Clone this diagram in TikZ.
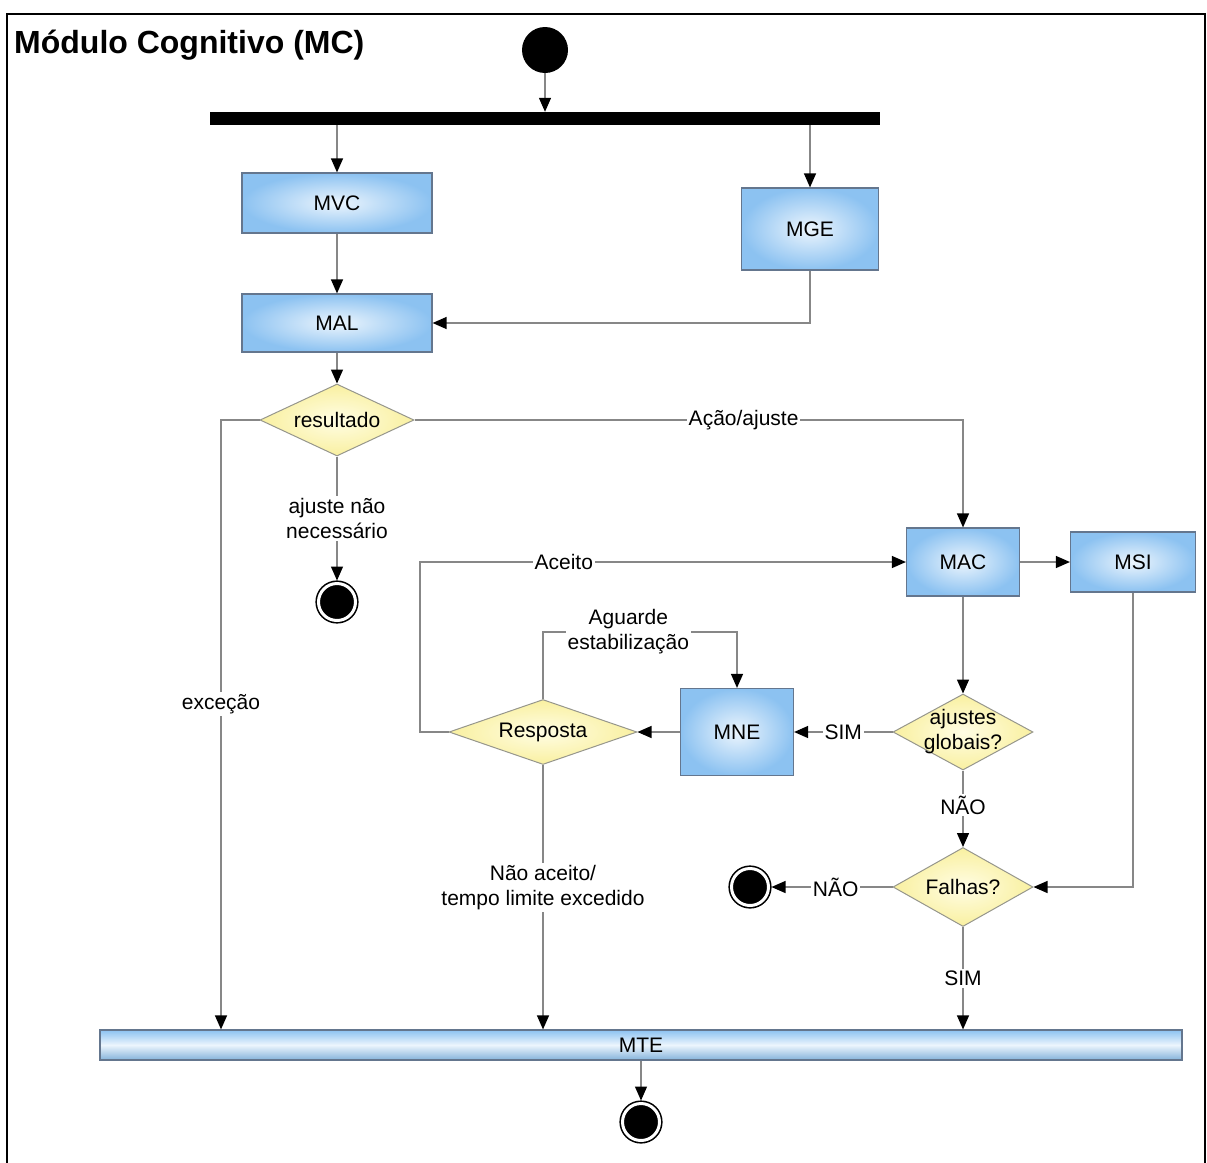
\documentclass[tikz,border=0pt]{standalone}
\usepackage{fontspec}
\setmainfont{Liberation Sans}
\usetikzlibrary{arrows.meta,shapes.geometric}
\definecolor{linegray}{RGB}{135,135,135}
\definecolor{boxedge}{RGB}{100,118,142}
\definecolor{boxin}{RGB}{236,245,253}
\definecolor{boxout}{RGB}{140,194,241}
\definecolor{diaedge}{RGB}{150,150,140}
\definecolor{diain}{RGB}{255,253,228}
\definecolor{diaout}{RGB}{249,240,160}
\newcommand\lblfont{\fontsize{21}{25}\selectfont}
\begin{document}
\begin{tikzpicture}[x=1pt,y=-1pt,
  ln/.style={draw=linegray, line width=1.3pt, -{Triangle[length=14pt,width=12pt,color=black]}},
  box/.style={rectangle, draw=boxedge, line width=1.2pt, inner color=boxin, outer color=boxout, font=\lblfont, inner sep=0pt},
  dia/.style={diamond, draw=diaedge, line width=1pt, inner color=diain, outer color=diaout, inner sep=0pt},
  txt/.style={font=\lblfont, align=center, inner sep=0pt},
  lbl/.style={fill=white, inner sep=2pt, font=\lblfont, align=center},
  endc/.style={circle, fill=black, draw=black, line width=1.6pt, double=white, double distance=3pt, minimum size=37pt, inner sep=0pt, outer sep=3pt},
  startc/.style={circle, fill=black, minimum size=46pt, inner sep=0pt},
  forkbar/.style={rectangle, fill=black, inner sep=0pt}
]
\useasboundingbox (0,0) rectangle (1207,1162);
\clip (0,0) rectangle (1207,1162);

% frame and title
\draw[line width=2pt] (7,14) rectangle (1205,1180);
\node[anchor=base west, inner sep=0pt, font=\fontsize{32}{36}\selectfont\bfseries] (title) at (14,53) {Módulo Cognitivo (MC)};

% initial node and fork
\node[startc] (start) at (545,50) {};
\node[forkbar, minimum width=670pt, minimum height=13pt] (fork) at (545,118.5) {};

% activities
\node[box, minimum width=190pt, minimum height=60pt] (mvc) at (337,203) {MVC};
\node[box, minimum width=137pt, minimum height=82pt] (mge) at (810,229) {MGE};
\node[box, minimum width=190pt, minimum height=58pt] (mal) at (337,323) {MAL};
\node[box, minimum width=113pt, minimum height=68pt] (mac) at (963,562) {MAC};
\node[box, minimum width=125pt, minimum height=60pt] (msi) at (1133,562) {MSI};
\node[box, minimum width=113pt, minimum height=87pt] (mne) at (737,732) {MNE};
\node[rectangle, draw=boxedge, line width=1.2pt, inner sep=0pt,
      top color=boxout, bottom color=boxout!90!black!95, middle color=boxin,
      font=\lblfont, minimum width=1082pt, minimum height=30pt] (mte) at (641,1045) {MTE};

% decisions
\node[dia, minimum width=154pt, minimum height=72pt] (res) at (337,420) {};
\node[txt] at (res) {resultado};
\node[dia, minimum width=188pt, minimum height=65pt] (resp) at (543,732) {};
\node[txt] at (resp) {Resposta};
\node[dia, minimum width=140pt, minimum height=76pt] (aj) at (963,732) {};
\node[txt] at (aj) {ajustes\\globais?};
\node[dia, minimum width=140pt, minimum height=79pt] (fa) at (963,887) {};
\node[txt] at (fa) {Falhas?};

% final nodes
\node[endc] (e1) at (337,602) {};
\node[endc] (e2) at (750,887) {};
\node[endc] (e3) at (641,1122) {};

% helper bends
\coordinate (cexc) at (221,420);
\coordinate (cacl) at (420,732);
\coordinate (cacu) at (420,562);
\coordinate (cagl) at (543,632);
\coordinate (cagr) at (737,632);

% flows
\draw[ln] (start.south) -- (start.south |- fork.north);
\draw[ln] (fork.south -| mvc) -- (mvc.north);
\draw[ln] (fork.south -| mge) -- (mge.north);
\draw[ln] (mvc.south) -- (mal.north);
\draw[ln] (mge.south) -- (mge.south |- mal.east) -- (mal.east);
\draw[ln] (mal.south) -- (res.north);
\draw[ln] (res.west) -- (cexc) -- node[lbl, pos=0.466] {exceção} (cexc |- mte.north);
\draw[ln] (res.east) -- node[lbl, pos=0.6] {Ação/ajuste} (res.east -| mac) -- (mac.north);
\draw[ln] (res.south) -- node[lbl, pos=0.5] {ajuste não\\necessário} (e1.north);
\draw[ln] (resp.west) -- (cacl) -- (cacu) -- node[lbl, pos=0.296] {Aceito} (mac.west);
\draw[ln] (mac.east) -- (msi.west);
\draw[ln] (mac.south) -- (aj.north);
\draw[ln] (aj.west) -- node[lbl, pos=0.5] {SIM} (mne.east);
\draw[ln] (mne.west) -- (resp.east);
\draw[ln] (resp.north) -- (cagl) -- node[lbl, pos=0.44] {Aguarde\\estabilização} (cagr) -- (mne.north);
\draw[ln] (resp.south) -- node[lbl, pos=0.464] {Não aceito/\\tempo limite excedido} (resp.south |- mte.north);
\draw[ln] (aj.south) -- node[lbl, pos=0.45] {NÃO} (fa.north);
\draw[ln] (fa.west) -- node[lbl, pos=0.47] {NÃO} (e2.east);
\draw[ln] (msi.south) -- (msi.south |- fa.east) -- (fa.east);
\draw[ln] (fa.south) -- node[lbl, pos=0.5] {SIM} (fa.south |- mte.north);
\draw[ln] (mte.south) -- (e3.north);
\end{tikzpicture}
\end{document}
